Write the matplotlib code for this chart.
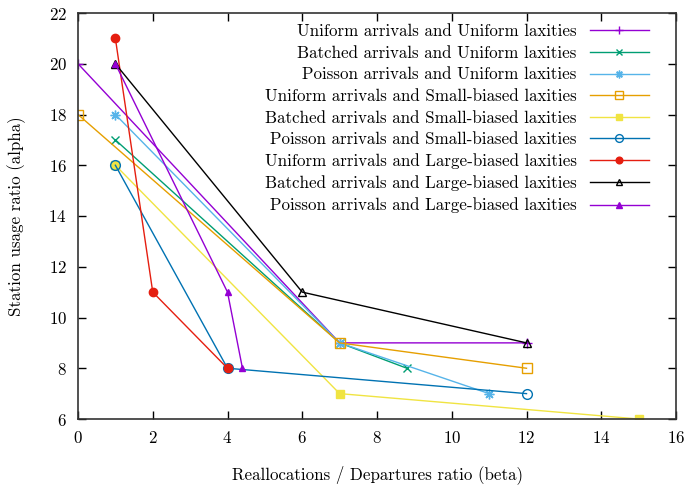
import matplotlib
matplotlib.use("Agg")
import matplotlib.pyplot as plt

plt.rcParams["font.family"] = ["cmr10", "DejaVu Serif"]
plt.rcParams["axes.formatter.use_mathtext"] = True
plt.rcParams["mathtext.fontset"] = "cm"

labels = [
    "Uniform arrivals and Uniform laxities",
    "Batched arrivals and Uniform laxities",
    "Poisson arrivals and Uniform laxities",
    "Uniform arrivals and Small-biased laxities",
    "Batched arrivals and Small-biased laxities",
    "Poisson arrivals and Small-biased laxities",
    "Uniform arrivals and Large-biased laxities",
    "Batched arrivals and Large-biased laxities",
    "Poisson arrivals and Large-biased laxities",
]

uu_x = [0, 7, 12]
uu_y = [20, 9, 9]
bu_x = [1, 7, 8.8]
bu_y = [17, 9, 8]
pu_x = [1, 7, 11]
pu_y = [18, 9, 7]
us_x = [0, 7, 12]
us_y = [18, 9, 8]
bs_x = [1, 7, 15]
bs_y = [16, 7, 6]
ps_x = [1, 4, 12]
ps_y = [16, 8, 7]
ul_x = [1, 2, 4]
ul_y = [21, 11, 8]
bl_x = [1, 6, 12]
bl_y = [20, 11, 9]
pl_x = [1, 4, 4.4]
pl_y = [20, 11, 8]

series = [
    (uu_x, uu_y, "#9400d3", "+", "#9400d3", 7),
    (bu_x, bu_y, "#009e73", "x", "#009e73", 6),
    (pu_x, pu_y, "#56b4e9", (8, 2, 0), "#56b4e9", 7),
    (us_x, us_y, "#e69f00", "s", "none", 7),
    (bs_x, bs_y, "#f0e442", "s", "#f0e442", 6),
    (ps_x, ps_y, "#0072b2", "o", "none", 7),
    (ul_x, ul_y, "#e51e10", "o", "#e51e10", 6),
    (bl_x, bl_y, "black", "^", "none", 6),
    (pl_x, pl_y, "#9400d3", "^", "#9400d3", 5),
]

fs = 12.2
fig = plt.figure(figsize=(6.84, 4.88), dpi=100)
ax = fig.add_axes([78 / 684, 1 - 419 / 488, 598 / 684, 406 / 488])

for (x, y, c, m, fc, ms), lab in zip(series, labels):
    ax.plot(x, y, color=c, lw=1.0, marker=m, markersize=ms,
            markerfacecolor=fc, markeredgecolor=c, markeredgewidth=1.0,
            label=lab)

ax.set_xlim(0, 16)
ax.set_ylim(6, 22)
ax.set_xticks(range(0, 17, 2))
ax.set_yticks(range(6, 23, 2))
ax.tick_params(direction="in", top=True, right=True, length=6, width=1,
               labelsize=fs, pad=8)
for s in ax.spines.values():
    s.set_linewidth(1.2)
    s.set_color("#333333")

ax.set_xlabel("Reallocations / Departures ratio (beta)", fontsize=fs, labelpad=14)
ax.set_ylabel("Station usage ratio (alpha)", fontsize=fs, labelpad=16)

leg = ax.legend(loc="upper right", bbox_to_anchor=(649 / 684, 1 - 24 / 488),
                bbox_transform=fig.transFigure, frameon=False, markerfirst=False,
                fontsize=fs, handlelength=3.5, handletextpad=0.77,
                labelspacing=0.37, borderaxespad=0, borderpad=0,
                markerscale=0.8)
for t in leg.get_texts():
    t.set_ha("right")

fig.savefig("out.png", dpi=100)
